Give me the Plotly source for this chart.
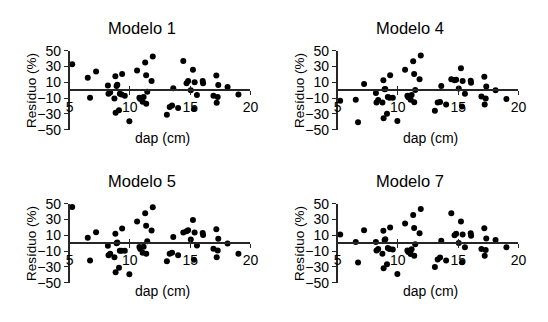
import plotly.graph_objects as go

# Shared diameter (dap, cm) values
dap = [5.22, 6.51, 6.7, 7.2, 8.18, 8.23, 8.37, 8.72, 8.8, 8.9, 8.96, 8.82, 9.1, 9.17, 9.36,
       9.31, 9.58, 9.96, 10.6, 10.79, 10.87, 11.06, 11.14, 11.27, 11.35, 11.36, 11.44, 11.8,
       11.9, 13.07, 13.3, 13.5, 13.6, 14.0, 14.43, 14.7, 14.83, 15.05, 15.23, 15.32, 15.37,
       15.56, 16.04, 16.07, 16.93, 17.17, 17.2, 17.28, 17.33, 18.1, 19.0]

res_modelo1 = [33, 15.7, -9.7, 23.8, 6, -4.4, -3, -10.5, 17.7, 5.2, 6.9, -28.6, -25.4, -4.4, 20.6,
               -5.6, -6.9, -39.5, 25, -9.7, -11.3, -14.5, -8.5, 35, 19, -17.3, -2, 11.7,
               42.7, -31, -21.4, -19.4, 2.4, -22.6, 37, 8.9, 11.7, 0, 26, -23.8, 10,
               -6, 11.7, 8.9, -6.9, 18.5, -16, -8.5, 6.5, 4, -5.6]

res_modelo4 = [-13.3, -12, -40.5, 8, -3.6, -15.7, -12.5, -15.7, 12.5, 1.2, 1.5, -35.5, -29.8, -8.5, 19,
               -9.7, -9.7, -39, 25.8, -6.9, -9, -12, -6, 36.7, 20.6, -15.3, 0.4, 14,
               44, -26.2, -15.7, -15, 5.2, -18, 14, 12.5, 13.3, 2, 27.8, -20.6, 11.7,
               -4.4, 12, 9.3, -8, 17, -18, -10.5, 4.8, 0, -11.3]

res_modelo5 = [46, 6.9, -21.8, 14, -3.2, -15.3, -13.3, -17.7, 12, 0, 0.8, -36.7, -31, -9.7, 18.5,
               -9.7, -9.7, -39.5, 27.4, -4.8, -7.3, -12, -4.4, 38, 22, -13.3, 2.4, 16,
               45.6, -23, -13.3, -12, 8, -15.3, 13.5, 15, 16.5, 4.8, 29.4, -21, 13.7,
               -2.8, 13, 10.5, -6.9, 17.7, -17.7, -9.3, 5.6, -0.4, -13.3]

res_modelo7 = [10.9, 1.6, -24.6, 16.5, 1.6, -9.3, -7.3, -13.3, 15.7, 4, 5, -31.8, -26.6, -6, 19.8,
               -7.3, -8, -39, 25, -9.3, -11.3, -13.7, -7.7, 35.9, 19.4, -16, -1.2, 12.5,
               43.5, -30.2, -20.6, -18, 3.2, -21.8, 38, 10, 12, 0.4, 27.4, -24, 11,
               -5.2, 12.5, 9.3, -7.3, 19, -16, -8.5, 6, 4, -5.2]

titles = ["Modelo 1", "Modelo 4", "Modelo 5", "Modelo 7"]
series = [res_modelo1, res_modelo4, res_modelo5, res_modelo7]
x_ticks = [5, 10, 15, 20]
y_ticks = [-50, -30, -10, 10, 30, 50]
x_title = "dap (cm)"
y_title = "Resíduo (%)"

W, H = 548, 322
FONT = "Liberation Sans, Arial, sans-serif"
AX = "#262626"

# panel pixel geometry (left, top) offsets
offsets = [(0, 0), (274, 0), (0, 161), (274, 161)]
PL, PR, PT, PB = 67, 252, 45, 128  # plot area in a panel

def fx(px):
    return px / W

def fy(py):
    return 1 - py / H

fig = go.Figure()
layout = dict(width=W, height=H, margin=dict(l=0, r=0, t=0, b=0),
              paper_bgcolor="white", plot_bgcolor="white", showlegend=False,
              font=dict(family=FONT, color="black"))
annotations = []

for i, (title, vals) in enumerate(zip(titles, series)):
    n = i + 1
    ox, oy = offsets[i]
    xd = [fx(ox + PL), fx(ox + PR)]
    yd = [fy(oy + PB), fy(oy + PT)]
    zero_pos = yd[0] + (yd[1] - yd[0]) * 0.5
    xs = "" if n == 1 else str(n)
    fig.add_trace(go.Scatter(x=dap, y=vals, mode="markers",
                             marker=dict(color="black", size=6),
                             xaxis="x" + xs, yaxis="y" + xs, hoverinfo="x+y"))
    # overlay axis for the crossing part of ticks
    fig.add_trace(go.Scatter(x=[], y=[], mode="markers", xaxis="x" + str(n + 4),
                             yaxis="y" + xs, hoverinfo="skip"))
    layout["xaxis" + xs] = dict(domain=xd, range=[5, 20], anchor="free", position=zero_pos,
                                showline=True, linecolor=AX, linewidth=1.5,
                                ticks="outside", ticklen=4, tickwidth=1.2, tickcolor=AX,
                                tickvals=x_ticks, showgrid=False, zeroline=False,
                                tickfont=dict(size=14, family=FONT, color="black"))
    layout["xaxis" + str(n + 4)] = dict(domain=xd, range=[5, 20], anchor="free",
                                        position=zero_pos, overlaying="x" + xs,
                                        showline=False, ticks="inside", ticklen=4,
                                        tickwidth=1.2, tickcolor=AX, tickvals=x_ticks,
                                        showticklabels=False, showgrid=False, zeroline=False)
    layout["yaxis" + xs] = dict(domain=yd, range=[-50, 50], anchor="x" + xs,
                                showline=True, linecolor=AX, linewidth=1.5,
                                ticks="outside", ticklen=4, tickwidth=1.2, tickcolor=AX,
                                tickvals=y_ticks, showgrid=False, zeroline=False,
                                tickfont=dict(size=14, family=FONT, color="black"))
    annotations.append(dict(text=title, x=fx(ox + 141), y=fy(oy + 21), xref="paper",
                            yref="paper", showarrow=False, xanchor="center", yanchor="middle",
                            font=dict(size=16.5, family=FONT, color="black")))
    annotations.append(dict(text=x_title, x=fx(ox + 162), y=fy(oy + 137), xref="paper",
                            yref="paper", showarrow=False, xanchor="center", yanchor="middle",
                            font=dict(size=14, family=FONT, color="black")))
    annotations.append(dict(text=y_title, x=fx(ox + 28), y=fy(oy + 87), xref="paper",
                            yref="paper", showarrow=False, xanchor="center", yanchor="middle",
                            textangle=-90, font=dict(size=13.5, family=FONT, color="black")))

layout["annotations"] = annotations
fig.update_layout(**layout)
fig.write_html("out.html", config={"displayModeBar": False},
               post_script="document.body.style.margin='0px';document.documentElement.style.overflow='hidden';")
